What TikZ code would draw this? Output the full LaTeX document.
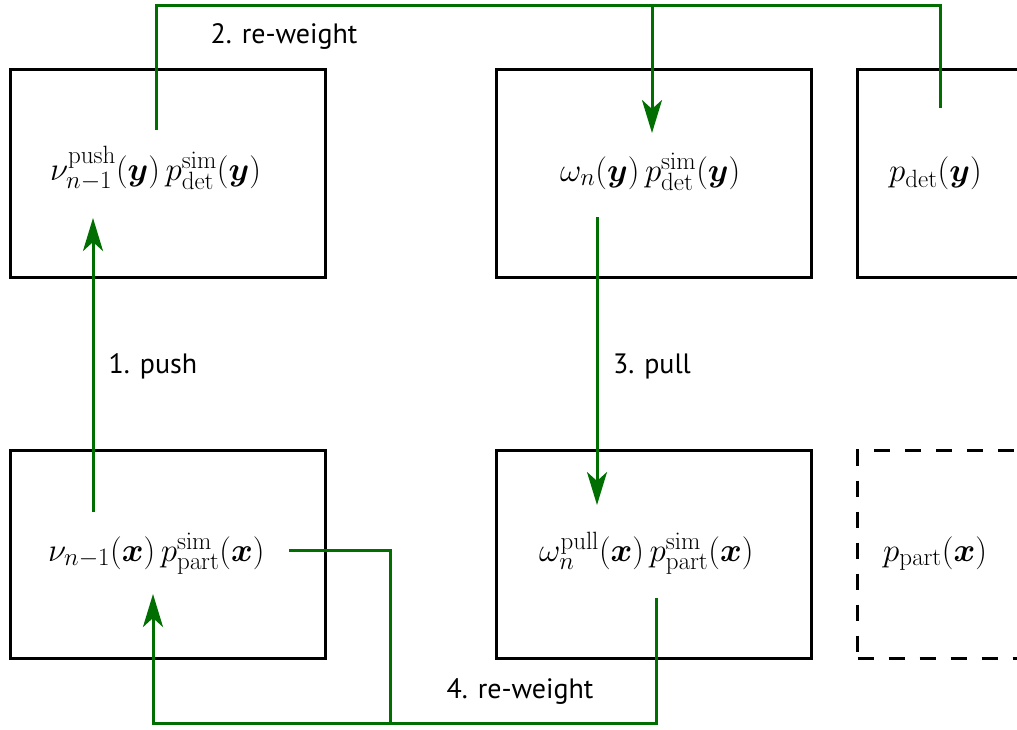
\RequirePackage{fix-cm}
\documentclass[tikz,border=0pt]{standalone}
\usepackage{amsmath,bm}
\usepackage[no-math]{fontspec}
\setmainfont{PT Sans}
\DeclareMathSizes{33}{33}{25}{18}
\usetikzlibrary{arrows.meta}
\definecolor{flow}{RGB}{0,110,0}
\tikzset{
  box/.style={draw=black, line width=3pt, minimum width=315pt, minimum height=208pt, inner sep=0pt},
  dbox/.style={box, dash pattern=on 16pt off 15pt},
  mathlbl/.style={anchor=base west, inner sep=0pt, font=\fontsize{33}{36}\selectfont},
  steplbl/.style={inner sep=0pt, font=\fontsize{28}{32}\selectfont},
  flowline/.style={draw=flow, line width=3pt},
  flowarrow/.style={flowline, -{Stealth[length=33pt,width=20pt,inset=9pt]}},
}
\begin{document}
\begin{tikzpicture}[x=1pt,y=-1pt]
\useasboundingbox (0,0) rectangle (1017,729);
\clip (0,0) rectangle (1017,729);
% boxes
\node[box]  (A) at (167.5,173.5) {};
\node[box]  (B) at (654,173.5) {};
\node[box]  (C) at (1015,173.5) {};
\node[box]  (D) at (167.5,554.5) {};
\node[box]  (E) at (654,554.5) {};
\node[dbox] (F) at (1015,554.5) {};
% texts
\node[mathlbl] (tA) at (50,180) {$\nu^{\mathrm{push}}_{n-1}(\bm{y})\,p^{\mathrm{sim}}_{\mathrm{det}}(\bm{y})$};
\node[mathlbl] (tB) at (560,181) {$\omega_n(\bm{y})\,p^{\mathrm{sim}}_{\mathrm{det}}(\bm{y})$};
\node[mathlbl] (tC) at (889,181) {$p_{\mathrm{det}}(\bm{y})$};
\node[mathlbl] (tD) at (48,561) {$\nu_{n-1}(\bm{x})\,p^{\mathrm{sim}}_{\mathrm{part}}(\bm{x})$};
\node[mathlbl] (tE) at (539,561) {$\omega^{\mathrm{pull}}_n(\bm{x})\,p^{\mathrm{sim}}_{\mathrm{part}}(\bm{x})$};
\node[mathlbl] (tF) at (883,561) {$p_{\mathrm{part}}(\bm{x})$};
% connector end points
\coordinate (a1) at (93,512);
\coordinate (a2) at (93,218);
\coordinate (r2s) at (156,130);
\coordinate (r2t) at (652,133);
\coordinate (r2d) at (940,108);
\coordinate (r2j) at (652,5);
\coordinate (p1) at (597,217);
\coordinate (p2) at (597,505);
\coordinate (r4s) at (289,550);
\coordinate (r4j) at (390,723);
\coordinate (r4e) at (656,598);
\coordinate (r4t) at (153,594);
% connectors
\draw[flowarrow] (a1) -- (a2);
\draw[flowline] (r2s) |- (r2j) -| (r2d);
\draw[flowarrow] (r2j) -- (r2t);
\draw[flowarrow] (p1) -- (p2);
\draw[flowline] (r4s) -| (r4j);
\draw[flowline] (r4e) |- (r4j);
\draw[flowarrow] (r4j) -| (r4t);
% step labels
\node[steplbl] (l1) at (153,366) {1. push};
\node[steplbl] (l2) at (284,36) {2. re-weight};
\node[steplbl] (l3) at (652,366) {3. pull};
\node[steplbl] (l4) at (520,692) {4. re-weight};
\end{tikzpicture}
\end{document}
